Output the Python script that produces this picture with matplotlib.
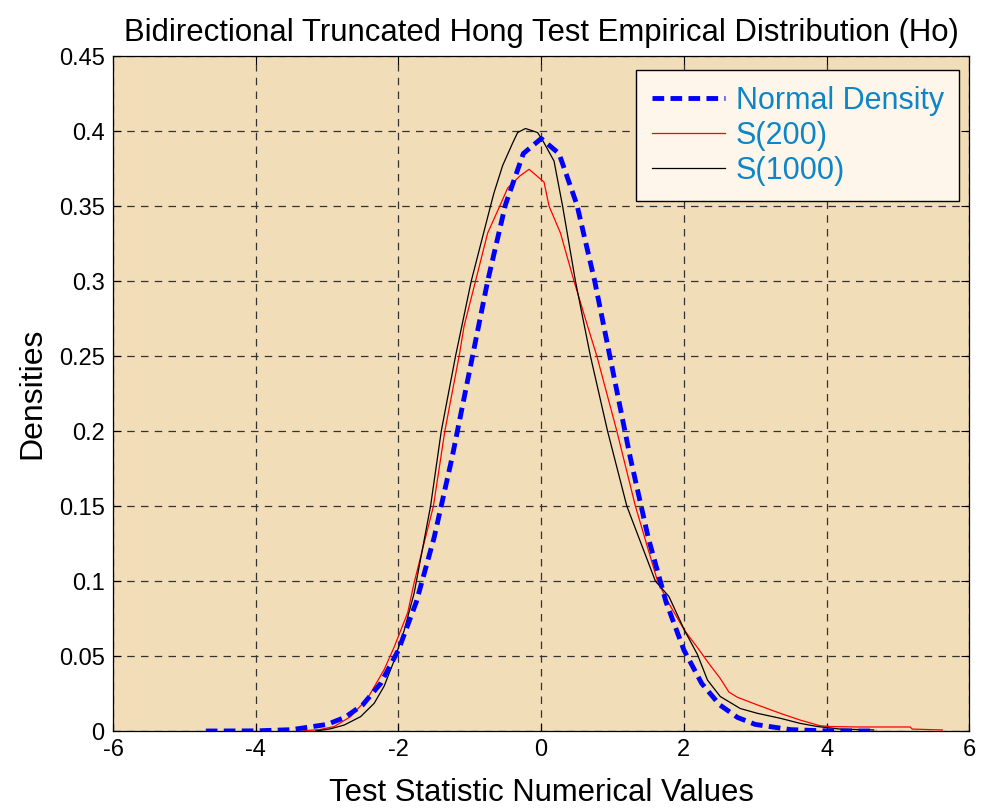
import numpy as np
import matplotlib
matplotlib.use("Agg")
import matplotlib.pyplot as plt

# Normal density curve
normal_x = [-4.7, -4.0, -3.5, -3.0, -2.75, -2.5, -2.25, -2.0, -1.75, -1.5, -1.25,
            -1.0, -0.75, -0.5, -0.25, 0.0, 0.25, 0.5, 0.75, 1.0, 1.25, 1.5, 1.75,
            2.0, 2.25, 2.5, 2.75, 3.0, 3.5, 4.0, 4.7]
normal_y = [0.0000, 0.0001, 0.0009, 0.0044, 0.0091, 0.0175, 0.0317, 0.054, 0.086,
            0.129, 0.182, 0.241, 0.300, 0.351, 0.385, 0.395, 0.385, 0.351, 0.300,
            0.241, 0.182, 0.129, 0.086, 0.054, 0.0317, 0.0175, 0.0091, 0.0044,
            0.0009, 0.0001, 0.0000]

# S(200) empirical density
s200_x = [-3.38, -3.1, -2.9, -2.67, -2.43, -2.2, -2.06, -1.87, -1.78, -1.51, -1.35,
          -1.15, -1.08, -0.92, -0.75, -0.58, -0.47, -0.30, -0.17, 0.04, 0.11, 0.27,
          0.46, 0.65, 0.78, 1.06, 1.32, 1.63, 1.79, 2.01, 2.2, 2.35, 2.51, 2.63,
          2.75, 3.03, 3.35, 3.63, 3.91, 4.05, 4.43, 5.17, 5.2, 5.62]
s200_y = [0.0, 0.001, 0.003, 0.0096, 0.022, 0.041, 0.056, 0.079, 0.099, 0.150, 0.200,
          0.250, 0.270, 0.300, 0.332, 0.350, 0.362, 0.370, 0.3745, 0.366, 0.350, 0.332,
          0.300, 0.270, 0.250, 0.200, 0.150, 0.100, 0.085, 0.067, 0.055, 0.045, 0.035,
          0.026, 0.0225, 0.0174, 0.0118, 0.0073, 0.0035, 0.003, 0.0027, 0.0027, 0.0013,
          0.0007]

# S(1000) empirical density
s1000_x = [-3.16, -2.95, -2.76, -2.53, -2.34, -2.20, -2.06, -1.92, -1.78, -1.55,
           -1.40, -1.20, -0.98, -0.71, -0.66, -0.54, -0.40, -0.33, -0.22, -0.05,
           0.03, 0.18, 0.30, 0.48, 0.69, 0.93, 1.20, 1.60, 1.79, 2.01, 2.19, 2.33,
           2.51, 2.79, 3.03, 3.35, 3.63, 3.87, 4.19, 4.66]
s1000_y = [0.0, 0.0015, 0.004, 0.0096, 0.0185, 0.030, 0.047, 0.067, 0.092, 0.150,
           0.200, 0.250, 0.300, 0.350, 0.359, 0.377, 0.392, 0.399, 0.4017, 0.399,
           0.393, 0.380, 0.350, 0.300, 0.250, 0.200, 0.150, 0.100, 0.0897, 0.067,
           0.051, 0.034, 0.023, 0.015, 0.0118, 0.0085, 0.0051, 0.003, 0.0013, 0.0007]

x_ticks = [-6, -4, -2, 0, 2, 4, 6]
y_ticks = [0, 0.05, 0.1, 0.15, 0.2, 0.25, 0.3, 0.35, 0.4, 0.45]
y_tick_labels = ["0", "0.05", "0.1", "0.15", "0.2", "0.25", "0.3", "0.35", "0.4", "0.45"]

plt.rcParams["font.family"] = ["Liberation Sans", "DejaVu Sans"]

fig = plt.figure(figsize=(9.82, 8.10), dpi=100)
ax = fig.add_axes([0.1151, 0.0975, 0.872, 0.8333])
ax.set_facecolor("#F2DDB9")

ax.plot(normal_x, normal_y, color="#0000FF", linewidth=3.5, dashes=(2.4, 1.3),
        label="Normal Density", zorder=4)
ax.plot(s200_x, s200_y, color="#FF0000", linewidth=0.9, label="S(200)", zorder=3)
ax.plot(s1000_x, s1000_y, color="#000000", linewidth=0.9, label="S(1000)", zorder=3)

ax.set_xlim(-6, 6)
ax.set_ylim(0, 0.45)
ax.set_xticks(x_ticks)
ax.set_xticklabels([str(t) for t in x_ticks])
ax.set_yticks(y_ticks)
ax.set_yticklabels(y_tick_labels)
ax.tick_params(direction="in", top=True, right=True, length=6, width=0.8,
               labelsize=17, pad=6, colors="black")
ax.grid(True, color="#333333", linestyle=(0, (6, 5)), linewidth=0.9)
ax.set_axisbelow(True)
for s in ax.spines.values():
    s.set_linewidth(0.9)

ax.set_title("Bidirectional Truncated Hong Test Empirical Distribution (Ho)",
             fontsize=22.4, pad=11)
ax.set_xlabel("Test Statistic Numerical Values", fontsize=22.3, labelpad=12)
ax.set_ylabel("Densities", fontsize=23, labelpad=8)

leg = ax.legend(loc="upper right", bbox_to_anchor=(0.988, 0.979), fontsize=22,
                frameon=True, fancybox=False, handlelength=2.4, labelspacing=0.17,
                borderpad=0.5, handletextpad=0.35, borderaxespad=0.0)
leg.get_frame().set_facecolor("#FEF6EA")
leg.get_frame().set_edgecolor("black")
leg.get_frame().set_linewidth(1.0)
leg.get_frame().set_alpha(1.0)
for t in leg.get_texts():
    t.set_color("#0C86C8")

fig.savefig("out.png", dpi=100)
